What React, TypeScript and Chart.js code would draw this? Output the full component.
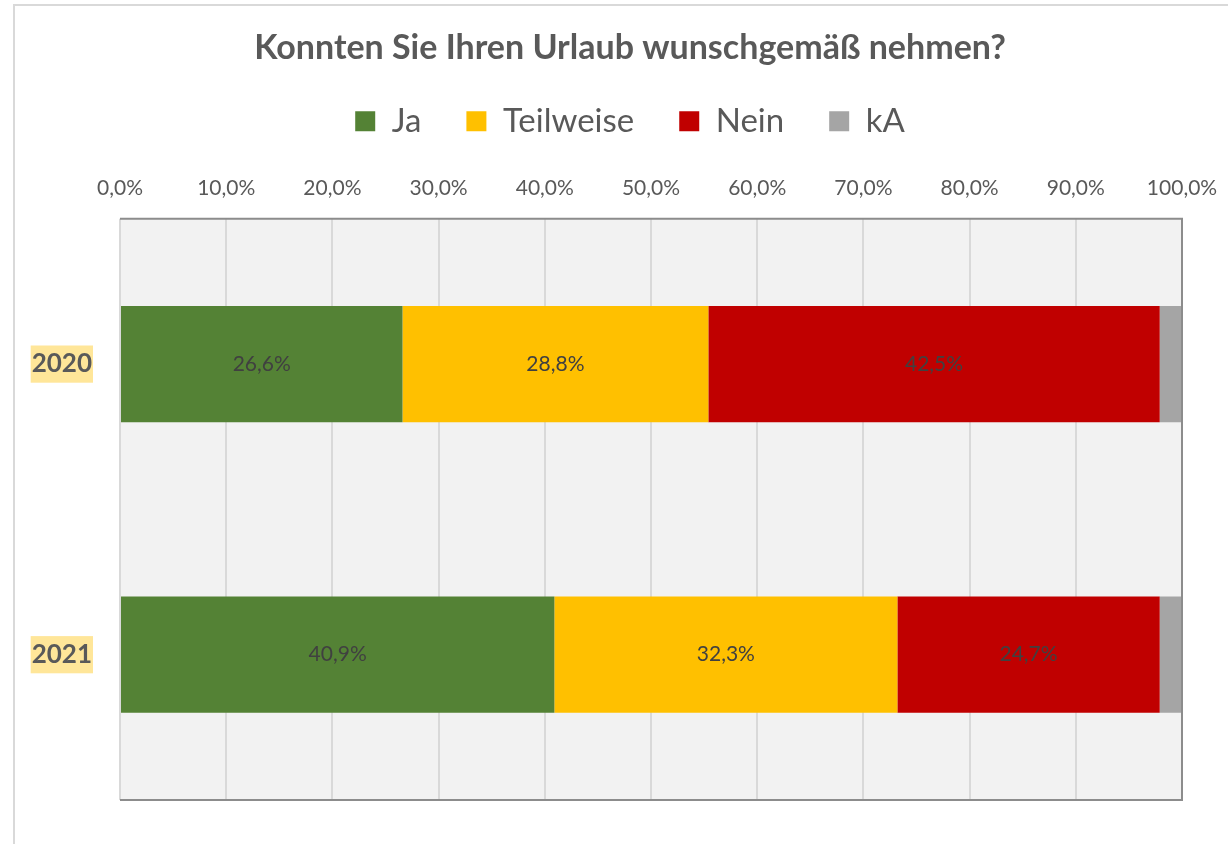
import React, { useEffect, useRef } from "react";
import { Chart, registerables } from "chart.js";

Chart.register(...registerables);

const TITLE = "Konnten Sie Ihren Urlaub wunschgemäß nehmen?";
const categories = ["2020", "2021"];
const seriesNames = ["Ja", "Teilweise", "Nein", "kA"];
const ja = [26.6, 40.9];
const teilweise = [28.8, 32.3];
const nein = [42.5, 24.7];
const kA = [2.1, 2.1];
const colors = ["#548235", "#FFC000", "#C00000", "#A5A5A5"];
const labeledSeries = [true, true, true, false];

const fmt = (v: number) => v.toFixed(1).replace(".", ",") + "%";

const FONT = "Lato, 'Open Sans', sans-serif";

// let the category labels use the space to the left of the (narrow) y scale box
const widenYLabelArea = {
  id: "widenYLabelArea",
  afterLayout(chart: any) {
    const y = chart.scales.y;
    if (y) y.left = 0;
  },
};

const plotFrame = {
  id: "plotFrame",
  beforeDraw(chart: any) {
    const { ctx, chartArea: a } = chart;
    ctx.save();
    ctx.fillStyle = "#F2F2F2";
    ctx.fillRect(a.left, a.top, a.right - a.left, a.bottom - a.top);
    ctx.restore();
  },
  afterDatasetsDraw(chart: any) {
    const { ctx, chartArea: a } = chart;
    ctx.save();
    ctx.lineWidth = 2;
    ctx.strokeStyle = "#D9D9D9";
    ctx.beginPath();
    ctx.moveTo(a.left, a.top);
    ctx.lineTo(a.left, a.bottom);
    ctx.stroke();
    ctx.strokeStyle = "#8C8C8C";
    ctx.beginPath();
    ctx.moveTo(a.left, a.top);
    ctx.lineTo(a.right, a.top);
    ctx.lineTo(a.right, a.bottom);
    ctx.lineTo(a.left, a.bottom);
    ctx.stroke();
    ctx.restore();
  },
};

const dataLabels = {
  id: "dataLabels",
  afterDatasetsDraw(chart: any) {
    const { ctx } = chart;
    ctx.save();
    ctx.font = `21px ${FONT}`;
    ctx.fillStyle = "#404040";
    ctx.textAlign = "center";
    ctx.textBaseline = "middle";
    chart.data.datasets.forEach((ds: any, i: number) => {
      if (!labeledSeries[i]) return;
      const meta = chart.getDatasetMeta(i);
      meta.data.forEach((el: any, j: number) => {
        const cx = (el.x + el.base) / 2;
        ctx.fillText(fmt(ds.data[j]), cx, el.y);
      });
    });
    ctx.restore();
  },
};

export default function App() {
  const ref = useRef<HTMLCanvasElement>(null);
  useEffect(() => {
    if (!ref.current) return;
    const series = [ja, teilweise, nein, kA];
    const chart = new Chart(ref.current, {
      type: "bar",
      data: {
        labels: categories,
        datasets: seriesNames.map((name, i) => ({
          label: name,
          data: series[i],
          backgroundColor: colors[i],
          borderWidth: 0,
          categoryPercentage: 1,
          barPercentage: 0.4,
        })),
      },
      options: {
        indexAxis: "y",
        responsive: false,
        animation: false,
        layout: { padding: { top: 0, right: 65, bottom: 66, left: 63 } },
        plugins: {
          title: {
            display: true,
            text: TITLE,
            color: "#595959",
            font: { family: FONT, size: 34, weight: "bold", lineHeight: 0.7 },
            padding: { top: 30, bottom: 0 },
          },
          legend: {
            display: true,
            position: "top",
            labels: {
              color: "#595959",
              font: { family: FONT, size: 33 },
              boxWidth: 20,
              boxHeight: 20,
              padding: 45,
            },
          },
          tooltip: { enabled: false },
        },
        scales: {
          x: {
            position: "top",
            stacked: true,
            min: 0,
            max: 100,
            afterFit: (s: any) => {
              s.height = 71;
            },
            ticks: {
              stepSize: 10,
              color: "#595959",
              font: { family: FONT, size: 21 },
              padding: 18,
              callback: (v: any) => fmt(Number(v)),
            },
            grid: { color: "#D9D9D9", lineWidth: 2, drawTicks: false },
            border: { display: false },
          },
          y: {
            type: "category",
            stacked: true,
            afterFit: (s: any) => {
              s.width = 42;
            },
            ticks: {
              color: "#595959",
              font: { family: FONT, size: 26, weight: "bold" },
              padding: 28,
              autoSkip: false,
              showLabelBackdrop: true,
              backdropColor: "#FFE699",
              backdropPadding: { top: 3, bottom: 3, left: 1, right: 1 },
            },
            grid: { display: false, drawTicks: false },
            border: { display: false },
          },
        },
      },
      plugins: [widenYLabelArea, plotFrame, dataLabels],
    } as any);
    return () => chart.destroy();
  }, []);

  return (
    <div
      style={{
        position: "fixed",
        left: 0,
        top: 0,
        width: 1228,
        height: 844,
        overflow: "hidden",
        background: "#fff",
      }}
    >
      <div
        style={{
          position: "absolute",
          left: 13,
          top: 4,
          width: 1232,
          height: 860,
          borderLeft: "2px solid #D9D9D9",
          borderTop: "2px solid #D9D9D9",
          background: "#fff",
        }}
      >
        <canvas ref={ref} width={1232} height={860} style={{ display: "block" }} />
      </div>
    </div>
  );
}
